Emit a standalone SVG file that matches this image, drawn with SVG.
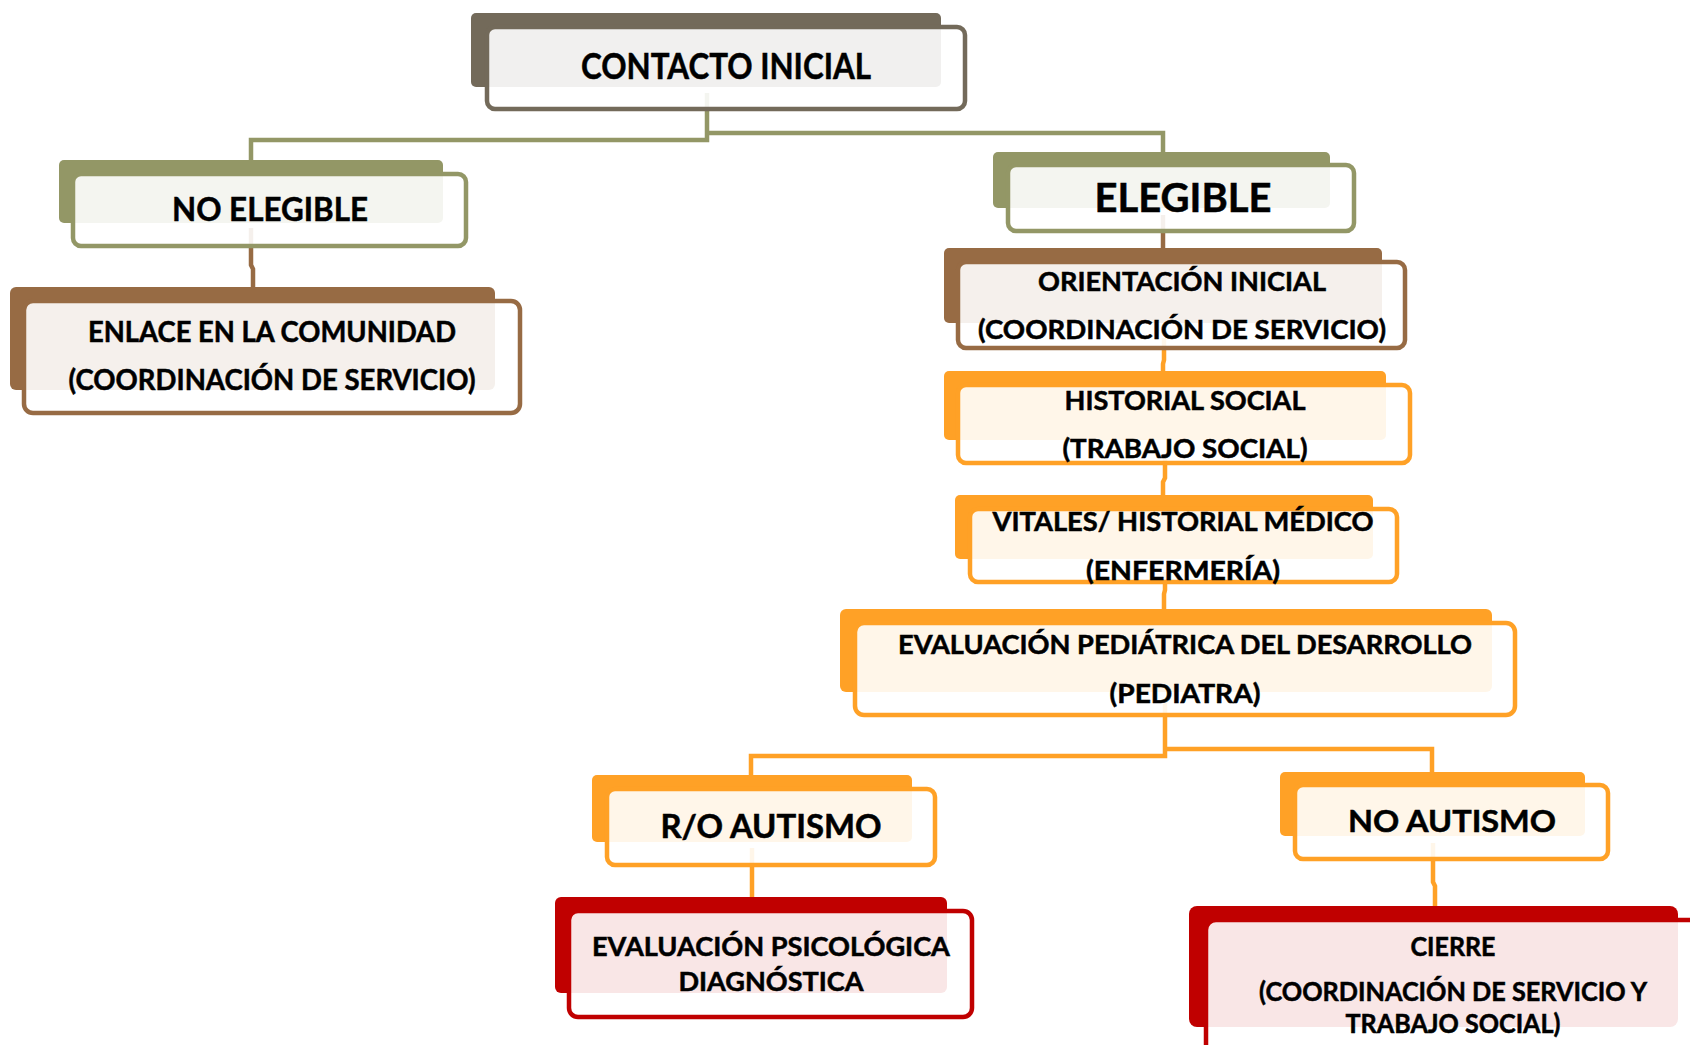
<svg xmlns="http://www.w3.org/2000/svg" width="1690" height="1045" viewBox="0 0 1690 1045">
<style>
.bk{stroke:none}
.fr{fill:#ffffff;fill-opacity:0.9;stroke-width:4.5}
.t{font-family:Lato,"Open Sans","Liberation Sans",sans-serif;font-weight:700;fill:#000;stroke:#000;stroke-width:0.5;text-anchor:middle}
.c{fill:none;stroke-width:4.5;stroke-linejoin:miter}
.gray .bk{fill:#736a5a}.gray .fr{stroke:#736a5a}
.olive .bk{fill:#939766}.olive .fr{stroke:#939766}
.brown .bk{fill:#976b44}.brown .fr{stroke:#976b44}
.orange .bk{fill:#ffa126}.orange .fr{stroke:#ffa126}
.red .bk{fill:#c00000}.red .fr{stroke:#c00000}
</style>
<rect width="1690" height="1045" fill="#ffffff"/>
<g id="connectors">
<path class="c" stroke="#939766" d="M707,93 V140 H251 V162"/>
<path class="c" stroke="#939766" d="M707,133 H1163 V154"/>
<path class="c" stroke="#976b44" d="M251,228 V265 L253,269 V289"/>
<path class="c" stroke="#976b44" d="M1163,215 V250"/>
<path class="c" stroke="#ffa126" d="M1164,338 V360 L1163,364 V373"/>
<path class="c" stroke="#ffa126" d="M1165,455 V478 L1163,482 V497"/>
<path class="c" stroke="#ffa126" d="M1165,572 V590 L1164,594 V611"/>
<path class="c" stroke="#ffa126" d="M1165,700 V756 H751 V777"/>
<path class="c" stroke="#ffa126" d="M1165,749 H1432 V774"/>
<path class="c" stroke="#ffa126" d="M752,848 V899"/>
<path class="c" stroke="#ffa126" d="M1433,843 V882 L1435,886 V908"/>
</g>
<g id="contacto-inicial" class="gray">
<rect class="bk" x="471" y="13" width="470" height="74" rx="5"/>
<rect class="fr" x="487" y="27" width="478" height="82" rx="8"/>
<text class="t" x="726" y="79" font-size="37" textLength="290" lengthAdjust="spacingAndGlyphs">CONTACTO INICIAL</text>
</g>
<g id="no-elegible" class="olive">
<rect class="bk" x="59" y="160" width="384" height="63" rx="5"/>
<rect class="fr" x="73" y="174" width="393" height="72" rx="8"/>
<text class="t" x="270" y="221" font-size="32" textLength="196" lengthAdjust="spacingAndGlyphs">NO ELEGIBLE</text>
</g>
<g id="enlace" class="brown">
<rect class="bk" x="10" y="287" width="485" height="103" rx="6"/>
<rect class="fr" x="24" y="301" width="496" height="112" rx="9"/>
<text class="t" x="272" y="342" font-size="28" textLength="368" lengthAdjust="spacingAndGlyphs">ENLACE EN LA COMUNIDAD</text>
<text class="t" x="272" y="390" font-size="28" textLength="407" lengthAdjust="spacingAndGlyphs">(COORDINACIÓN DE SERVICIO)</text>
</g>
<g id="elegible" class="olive">
<rect class="bk" x="993" y="152" width="337" height="56" rx="5"/>
<rect class="fr" x="1008" y="165" width="346" height="66" rx="8"/>
<text class="t" x="1183" y="212" font-size="40" textLength="177" lengthAdjust="spacingAndGlyphs">ELEGIBLE</text>
</g>
<g id="orientacion" class="brown">
<rect class="bk" x="944" y="248" width="438" height="75" rx="5"/>
<rect class="fr" x="958" y="262" width="447" height="86" rx="8"/>
<text class="t" x="1182" y="291" font-size="27" textLength="288" lengthAdjust="spacingAndGlyphs">ORIENTACIÓN INICIAL</text>
<text class="t" x="1182" y="339" font-size="27" textLength="408" lengthAdjust="spacingAndGlyphs">(COORDINACIÓN DE SERVICIO)</text>
</g>
<g id="historial-social" class="orange">
<rect class="bk" x="944" y="371" width="442" height="69" rx="5"/>
<rect class="fr" x="958" y="385" width="452" height="78" rx="8"/>
<text class="t" x="1185" y="410" font-size="27" textLength="241" lengthAdjust="spacingAndGlyphs">HISTORIAL SOCIAL</text>
<text class="t" x="1185" y="458" font-size="27" textLength="245" lengthAdjust="spacingAndGlyphs">(TRABAJO SOCIAL)</text>
</g>
<g id="vitales" class="orange">
<rect class="bk" x="955" y="495" width="418" height="64" rx="5"/>
<rect class="fr" x="970" y="509" width="427" height="73" rx="8"/>
<text class="t" x="1183" y="531" font-size="26" textLength="381" lengthAdjust="spacingAndGlyphs">VITALES/ HISTORIAL MÉDICO</text>
<text class="t" x="1183" y="580" font-size="26" textLength="194" lengthAdjust="spacingAndGlyphs">(ENFERMERÍA)</text>
</g>
<g id="evaluacion-pediatrica" class="orange">
<rect class="bk" x="840" y="609" width="652" height="83" rx="6"/>
<rect class="fr" x="855" y="623" width="660" height="92" rx="9"/>
<text class="t" x="1185" y="654" font-size="27" textLength="574" lengthAdjust="spacingAndGlyphs">EVALUACIÓN PEDIÁTRICA DEL DESARROLLO</text>
<text class="t" x="1185" y="703" font-size="27" textLength="151" lengthAdjust="spacingAndGlyphs">(PEDIATRA)</text>
</g>
<g id="ro-autismo" class="orange">
<rect class="bk" x="592" y="775" width="320" height="67" rx="5"/>
<rect class="fr" x="607" y="789" width="328" height="76" rx="8"/>
<text class="t" x="771" y="838" font-size="32" textLength="221" lengthAdjust="spacingAndGlyphs">R/O AUTISMO</text>
</g>
<g id="no-autismo" class="orange">
<rect class="bk" x="1280" y="772" width="305" height="64" rx="5"/>
<rect class="fr" x="1295" y="785" width="313" height="74" rx="8"/>
<text class="t" x="1452" y="832" font-size="31" textLength="208" lengthAdjust="spacingAndGlyphs">NO AUTISMO</text>
</g>
<g id="evaluacion-psicologica" class="red">
<rect class="bk" x="555" y="897" width="392" height="96" rx="6"/>
<rect class="fr" x="569" y="911" width="403" height="106" rx="9"/>
<text class="t" x="771" y="956" font-size="26" textLength="358" lengthAdjust="spacingAndGlyphs">EVALUACIÓN PSICOLÓGICA</text>
<text class="t" x="771" y="991" font-size="26" textLength="185" lengthAdjust="spacingAndGlyphs">DIAGNÓSTICA</text>
</g>
<g id="cierre" class="red">
<rect class="bk" x="1189" y="906" width="489" height="121" rx="8"/>
<rect class="fr" x="1206" y="920" width="510" height="140" rx="10"/>
<text class="t" x="1453" y="956" font-size="26" textLength="85" lengthAdjust="spacingAndGlyphs">CIERRE</text>
<text class="t" x="1453" y="1001" font-size="26" textLength="388" lengthAdjust="spacingAndGlyphs">(COORDINACIÓN DE SERVICIO Y</text>
<text class="t" x="1453" y="1033" font-size="26" textLength="215" lengthAdjust="spacingAndGlyphs">TRABAJO SOCIAL)</text>
</g>
</svg>
